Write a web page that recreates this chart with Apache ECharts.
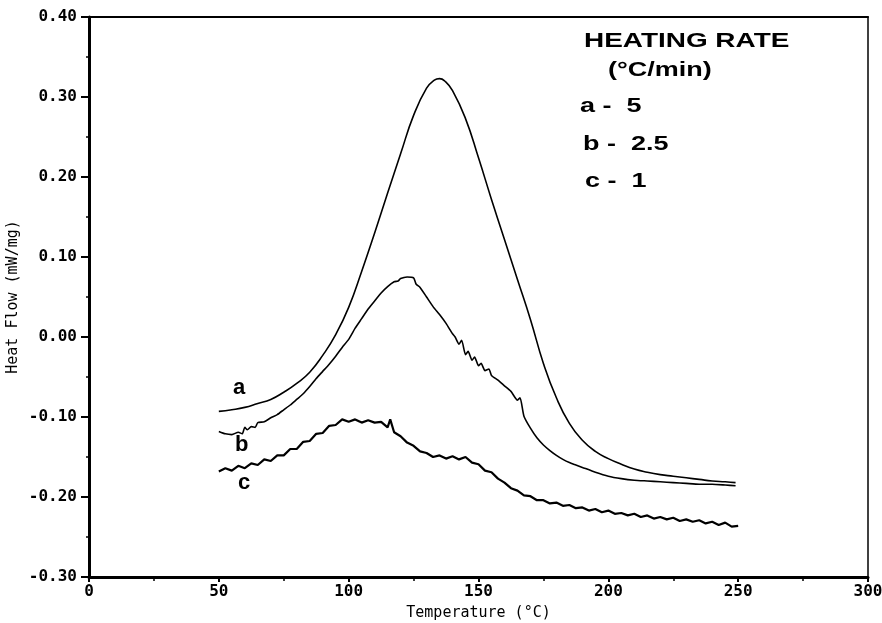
<!DOCTYPE html>
<html>
<head>
<meta charset="utf-8">
<script src="https://cdn.jsdelivr.net/npm/echarts@6/dist/echarts.min.js"></script>
<style>
html,body{margin:0;padding:0;background:#fff;}
#chart{width:882px;height:623px;}
</style>
</head>
<body>
<div id="chart"></div>
<script>
// ---- data ----
const xTicks = [0, 50, 100, 150, 200, 250, 300];
const yTicks = [-0.30, -0.20, -0.10, 0.00, 0.10, 0.20, 0.30, 0.40];

const aTemp = [50,55,60,65,70,75,80,85,90,95,100,105,110,115,120,125,130,133,135,137,140,145,150,155,160,165,170,175,180,185,190,195,200,205,210,215,220,225,230,235,240,245,249];
const aFlow = [-0.093,-0.091,-0.088,-0.083,-0.078,-0.069,-0.058,-0.044,-0.023,0.003,0.037,0.082,0.130,0.180,0.229,0.277,0.311,0.321,0.323,0.320,0.308,0.273,0.224,0.172,0.122,0.072,0.022,-0.033,-0.076,-0.108,-0.129,-0.143,-0.152,-0.159,-0.165,-0.169,-0.172,-0.174,-0.176,-0.178,-0.180,-0.181,-0.182];

const bTemp = [50,52.5,55,57.5,59,60,61,62.5,64,65,67.5,70,72.5,75,77.5,80,82.5,85,87.5,90,92.5,95,97.5,100,102.5,105,107.5,110,112.5,115,117.5,119,120,122.5,125,126,127.5,130,132.5,135,137.5,140,141,142.5,143.5,145,146,147.5,148.5,150,151,152.5,154,155,157.5,160,162.5,165,166,167.5,170,172.5,175,177.5,180,182.5,185,187.5,190,195,200,205,210,215,220,225,230,235,240,245,249];
const bFlow = [-0.118,-0.121,-0.122,-0.119,-0.121,-0.113,-0.116,-0.112,-0.113,-0.107,-0.106,-0.101,-0.097,-0.091,-0.085,-0.078,-0.071,-0.062,-0.052,-0.043,-0.034,-0.024,-0.013,-0.003,0.011,0.023,0.035,0.045,0.055,0.063,0.069,0.070,0.073,0.075,0.074,0.066,0.062,0.050,0.038,0.028,0.017,0.004,0.000,-0.009,-0.004,-0.022,-0.018,-0.029,-0.025,-0.036,-0.033,-0.042,-0.040,-0.048,-0.054,-0.061,-0.068,-0.079,-0.076,-0.099,-0.114,-0.126,-0.135,-0.142,-0.148,-0.153,-0.157,-0.160,-0.163,-0.169,-0.174,-0.177,-0.179,-0.180,-0.181,-0.182,-0.183,-0.184,-0.184,-0.185,-0.186];

const cTemp = [50,52.5,55,57.5,60,62.5,65,67.5,70,72.5,75,77.5,80,82.5,85,87.5,90,92.5,95,97.5,100,102.5,105,107.5,110,112.5,115,116,117.5,120,122.5,125,127.5,130,132.5,135,137.5,140,142.5,145,147.5,150,152.5,155,157.5,160,162.5,165,167.5,170,172.5,175,177.5,180,182.5,185,187.5,190,192.5,195,197.5,200,202.5,205,207.5,210,212.5,215,217.5,220,222.5,225,227.5,230,232.5,235,237.5,240,242.5,245,247.5,250];
const cFlow = [-0.168,-0.164,-0.167,-0.161,-0.164,-0.158,-0.160,-0.153,-0.155,-0.148,-0.148,-0.140,-0.140,-0.131,-0.130,-0.121,-0.120,-0.111,-0.110,-0.103,-0.106,-0.103,-0.107,-0.104,-0.107,-0.106,-0.113,-0.103,-0.119,-0.124,-0.132,-0.136,-0.143,-0.145,-0.150,-0.148,-0.152,-0.149,-0.153,-0.150,-0.157,-0.159,-0.167,-0.169,-0.177,-0.182,-0.189,-0.192,-0.198,-0.199,-0.204,-0.204,-0.208,-0.207,-0.211,-0.210,-0.214,-0.213,-0.217,-0.215,-0.219,-0.217,-0.221,-0.220,-0.223,-0.221,-0.225,-0.223,-0.227,-0.225,-0.228,-0.226,-0.230,-0.228,-0.231,-0.229,-0.233,-0.231,-0.235,-0.232,-0.237,-0.236];

const curveLabels = ['a', 'b', 'c'];
const legendTitle = 'HEATING RATE';
const legendUnit = '(°C/min)';
const legendRows = ['a -  5', 'b -  2.5', 'c -  1'];

// ---- build chart ----
const pairs = (xs, ys) => xs.map((x, i) => [x, ys[i]]);
const mono = 'DejaVu Sans Mono';

const chart = echarts.init(document.getElementById('chart'));
const lineSeries = (name, xs, ys, w, sm) => ({
  name, type: 'line', data: pairs(xs, ys), showSymbol: false, smooth: sm,
  lineStyle: { color: '#000', width: w }, silent: true, animation: false
});
const boldText = (t, x, y, size, sx) => ({
  type: 'text', x, y, scaleX: sx || 1, silent: true,
  style: { text: t, font: 'bold ' + size + 'px "Liberation Sans"', fill: '#000' }
});

chart.setOption({
  backgroundColor: '#fff',
  animation: false,
  grid: { left: 89, right: 14, top: 17, bottom: 46, outerBoundsMode: 'none', containLabel: false },
  xAxis: [{
    type: 'value', min: xTicks[0], max: xTicks[xTicks.length - 1], interval: 50,
    name: 'Temperature (°C)', nameLocation: 'middle', nameGap: 29, nameMoveOverlap: false,
    nameTextStyle: { fontFamily: mono, fontSize: 15, color: '#000' },
    axisLine: { show: true, onZero: false, lineStyle: { color: '#000', width: 3 } },
    axisTick: { show: true, length: 5, lineStyle: { color: '#000', width: 2 } },
    minorTick: { show: true, splitNumber: 2, length: 4, lineStyle: { color: '#000', width: 1.5 } },
    axisLabel: { fontFamily: mono, fontSize: 16, fontWeight: 'bold', color: '#000', margin: 7 },
    splitLine: { show: false }
  }, {
    type: 'value', position: 'top', min: 0, max: 300,
    axisLine: { show: true, onZero: false, lineStyle: { color: '#000', width: 2 } },
    axisTick: { show: false }, axisLabel: { show: false }, splitLine: { show: false }
  }],
  yAxis: [{
    type: 'value', min: yTicks[0], max: yTicks[yTicks.length - 1], interval: 0.1,
    name: 'Heat Flow (mW/mg)', nameLocation: 'middle', nameGap: 68, nameRotate: 90, nameMoveOverlap: false,
    nameTextStyle: { fontFamily: mono, fontSize: 15, color: '#000' },
    axisLine: { show: true, onZero: false, lineStyle: { color: '#000', width: 3 } },
    axisTick: { show: true, length: 8, lineStyle: { color: '#000', width: 2 } },
    minorTick: { show: true, splitNumber: 2, length: 3, lineStyle: { color: '#000', width: 1.5 } },
    axisLabel: { fontFamily: mono, fontSize: 16, fontWeight: 'bold', color: '#000', margin: 12,
      formatter: v => v.toFixed(2) },
    splitLine: { show: false }
  }, {
    type: 'value', position: 'right', min: -0.3, max: 0.4,
    axisLine: { show: true, onZero: false, lineStyle: { color: '#000', width: 1.5 } },
    axisTick: { show: false }, axisLabel: { show: false }, splitLine: { show: false }
  }],
  series: [
    lineSeries('a', aTemp, aFlow, 1.6, 0.5),
    lineSeries('b', bTemp, bFlow, 1.6, 0.2),
    lineSeries('c', cTemp, cFlow, 2.2, false)
  ],
  graphic: [
    boldText(curveLabels[0], 233, 377, 22),
    boldText(curveLabels[1], 235, 434, 22),
    boldText(curveLabels[2], 238, 472, 22),
    boldText(legendTitle, 584, 30.5, 21, 1.33),
    boldText(legendUnit, 608, 60, 20, 1.35),
    boldText(legendRows[0], 580, 96, 20, 1.35),
    boldText(legendRows[1], 583, 134, 20, 1.35),
    boldText(legendRows[2], 585, 171, 20, 1.35)
  ]
});
</script>
</body>
</html>
